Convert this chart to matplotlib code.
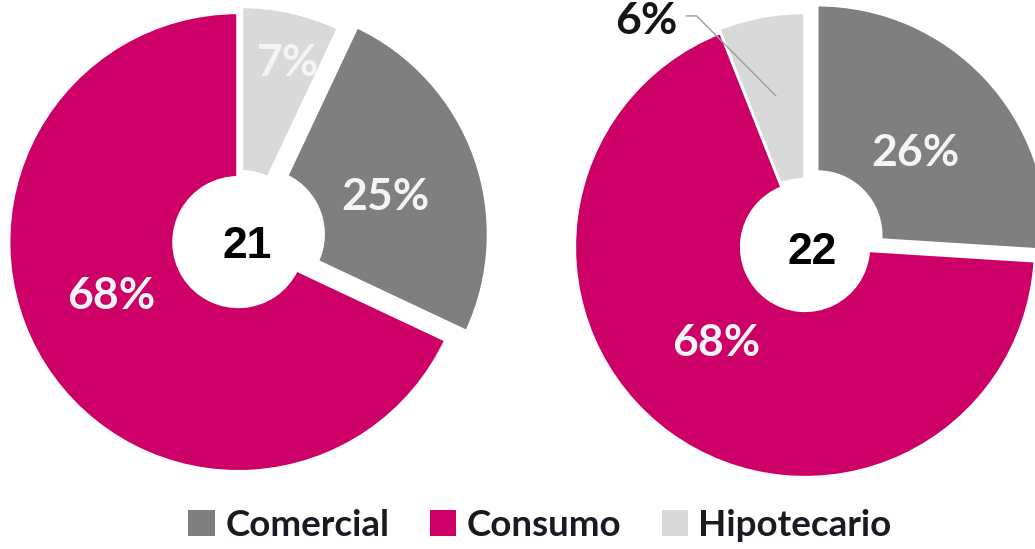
import matplotlib
matplotlib.use("Agg")
import matplotlib.pyplot as plt
import numpy as np
from matplotlib.patches import Patch

# Loan portfolio composition by year (percent of total)
categories = ["Comercial", "Consumo", "Hipotecario"]
years = ["21", "22"]
shares_21 = {"Comercial": 25, "Consumo": 68, "Hipotecario": 7}
shares_22 = {"Comercial": 26, "Consumo": 68, "Hipotecario": 6}

# Clockwise order of the slices, starting at 12 o'clock
order_21 = ["Hipotecario", "Comercial", "Consumo"]
order_22 = ["Comercial", "Consumo", "Hipotecario"]

colors = {"Comercial": "#7F7F7F", "Consumo": "#CC0066", "Hipotecario": "#D9D9D9"}

W, H = 1035, 549
fig = plt.figure(figsize=(W / 100, H / 100), dpi=100)
ax = fig.add_axes([0, 0, 1, 1])
ax.set_xlim(0, W)
ax.set_ylim(0, H)
ax.set_aspect("equal")
ax.axis("off")

R = 230
HOLE = 64

charts = [
    dict(year=years[0], shares=shares_21, order=order_21, center=(240, 308),
         explode={"Hipotecario": 5, "Comercial": 20, "Consumo": 2}, lw=3.0,
         # label radius (fraction of R) and clockwise angle nudge in degrees
         lab={"Hipotecario": (0.80, 2.5, "inside"), "Comercial": (0.66, 3.0, "inside"),
              "Consumo": (0.61, 9.5, "inside")}),
    dict(year=years[1], shares=shares_22, order=order_22, center=(805, 302),
         explode={"Comercial": 17, "Consumo": 0, "Hipotecario": 4}, lw=1.6,
         lab={"Comercial": (0.63, 2.7, "inside"), "Consumo": (0.57, 6.8, "inside"),
              "Hipotecario": (1.20, -24.2, "outside")}),
]

pct_font = dict(family=["Lato", "DejaVu Sans"], fontsize=32, fontweight="bold")

for ch in charts:
    vals = [ch["shares"][c] for c in ch["order"]]
    cols = [colors[c] for c in ch["order"]]
    expl = [ch["explode"][c] for c in ch["order"]]
    wedges, _ = ax.pie(vals, colors=cols, startangle=90, counterclock=False,
                       radius=R, center=ch["center"], explode=expl, frame=True,
                       wedgeprops=dict(width=R - HOLE, edgecolor="white",
                                       linewidth=ch["lw"]))
    cx, cy = ch["center"]
    for cat, w in zip(ch["order"], wedges):
        rf, nudge, mode = ch["lab"][cat]
        mid = 0.5 * (w.theta1 + w.theta2) - nudge
        t = np.deg2rad(mid)
        lx, ly = cx + rf * R * np.cos(t), cy + rf * R * np.sin(t)
        txt = f"{ch['shares'][cat]}%"
        if mode == "inside":
            ax.text(lx, ly, txt, color="#F4F4F4", ha="center", va="center", **pct_font)
        else:
            ax.text(lx, ly, txt, color="#151515", ha="center", va="center", **pct_font)
            # leader line from the label to the slice
            tm = np.deg2rad(0.5 * (w.theta1 + w.theta2))
            ex, ey = w.center[0] + 0.65 * R * np.cos(tm), w.center[1] + 0.65 * R * np.sin(tm)
            ax.plot([lx + 39, lx + 50, ex], [ly + 5, ly + 5, ey],
                    color="#8FA3A3", lw=1.0, solid_capstyle="butt")
    ax.text(cx + 7, cy - 5, ch["year"], ha="center", va="center", fontsize=32,
            fontweight="bold", family=["Liberation Sans", "DejaVu Sans"], color="black")

ax.set_xlim(0, W)
ax.set_ylim(0, H)

handles = [Patch(facecolor=colors[c], edgecolor="none") for c in categories]
fig.legend(handles, categories, loc="center", bbox_to_anchor=(540 / W, 24 / H),
           ncol=3, frameon=False, handlelength=0.72, handleheight=0.72,
           handletextpad=0.28, columnspacing=1.1,
           prop=dict(family=["Lato", "DejaVu Sans"], size=26.5, weight="bold"),
           labelcolor="#1A1A24")

fig.savefig("out.png", dpi=100, facecolor="white")
